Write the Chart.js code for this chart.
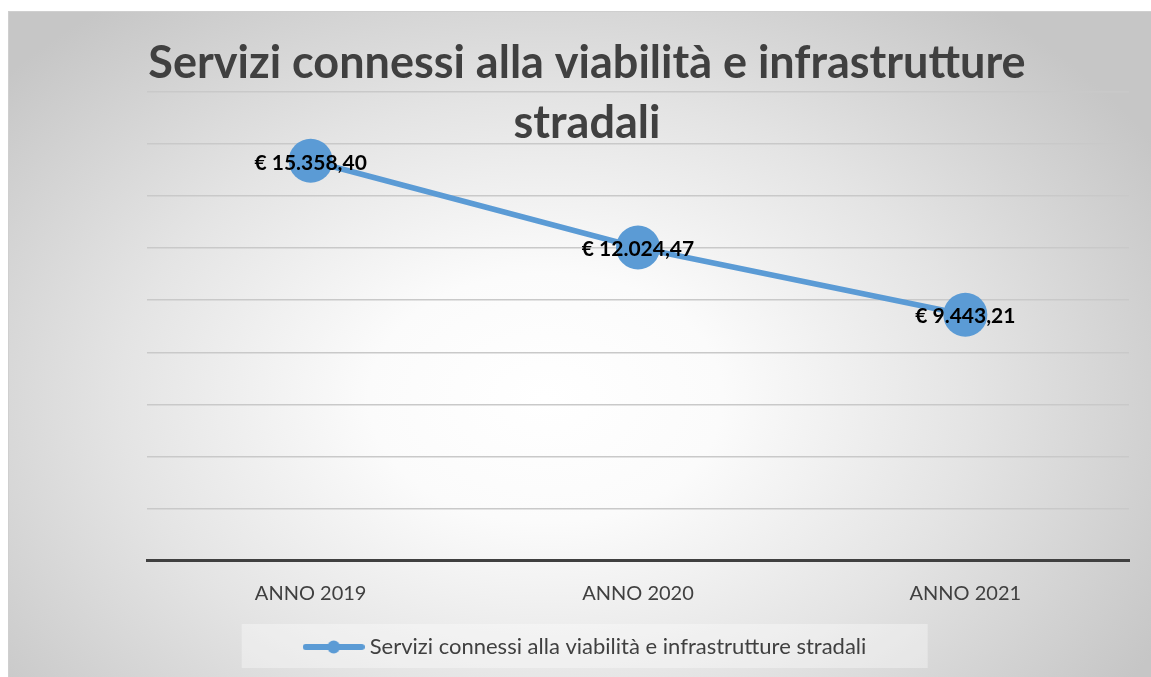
<!DOCTYPE html>
<html lang="it">
<head>
<meta charset="utf-8">
<title>Servizi connessi alla viabilità e infrastrutture stradali</title>
<script src="https://cdn.jsdelivr.net/npm/chart.js@4.4.1/dist/chart.umd.min.js"></script>
<style>
    html, body {
        margin: 0;
        padding: 0;
        background: #ffffff;
        width: 1151px;
        height: 677px;
        overflow: hidden;
    }
    #frame {
        position: absolute;
        left: 8px;
        top: 11px;
        width: 1143px;
        height: 666px;
        box-sizing: border-box;
        border-top: 1px solid #cfcfcf;
        border-left: 1px solid #cfcfcf;
        background: radial-gradient(ellipse 62% 75% at 47% 58%, #ffffff 0%, #fbfbfb 25%, #e4e4e4 60%, #c6c6c6 100%);
    }
    #lineChart {
        display: block;
    }
</style>
</head>
<body>
<div id="frame"><canvas id="lineChart" width="1142" height="656"></canvas></div>
<script>
const titleLines = ["Servizi connessi alla viabilità e infrastrutture", "stradali"];
const seriesName = "Servizi connessi alla viabilità e infrastrutture stradali";
const years = ["ANNO 2019", "ANNO 2020", "ANNO 2021"];
const amounts = [15358.40, 12024.47, 9443.21];
const yMax = 18000;
const yStep = 2000;

const blue = "#5B9BD5";
const darkGray = "#404040";
const fontFamily = "Lato, 'DejaVu Sans', sans-serif";

// Format as euro with Italian separators, e.g. € 15.358,40
function euro(v) {
    const parts = v.toFixed(2).split(".");
    const intPart = parts[0].replace(/\B(?=(\d{3})+(?!\d))/g, ".");
    return "€ " + intPart + "," + parts[1];
}

// Legend marker: a short line with a dot in the middle
function legendMarker() {
    const c = document.createElement("canvas");
    c.width = 62;
    c.height = 14;
    const ctx = c.getContext("2d");
    ctx.strokeStyle = blue;
    ctx.lineWidth = 6;
    ctx.lineCap = "round";
    ctx.beginPath();
    ctx.moveTo(3, 7);
    ctx.lineTo(59, 7);
    ctx.stroke();
    ctx.fillStyle = blue;
    ctx.beginPath();
    ctx.arc(31, 7, 6.5, 0, Math.PI * 2);
    ctx.fill();
    return c;
}

// Title drawn over the top of the plot area
const titlePlugin = {
    id: "overTitle",
    afterDraw(chart) {
        const ctx = chart.ctx;
        const cx = 578;
        ctx.save();
        ctx.fillStyle = darkGray;
        ctx.font = "bold 45px " + fontFamily;
        ctx.textAlign = "center";
        ctx.textBaseline = "alphabetic";
        ctx.fillText(titleLines[0], cx, 66);
        ctx.fillText(titleLines[1], cx, 126);
        ctx.restore();
    }
};

// Value labels centred on each point
const valueLabels = {
    id: "valueLabels",
    afterDatasetsDraw(chart) {
        const ctx = chart.ctx;
        const meta = chart.getDatasetMeta(0);
        ctx.save();
        ctx.fillStyle = "#000000";
        ctx.font = "bold 21px " + fontFamily;
        ctx.textAlign = "center";
        ctx.textBaseline = "middle";
        meta.data.forEach((pt, i) => {
            ctx.fillText(euro(amounts[i]), pt.x, pt.y + 2);
        });
        ctx.restore();
    }
};

// Light panel behind the legend
const legendPanel = {
    id: "legendPanel",
    beforeDraw(chart) {
        const lg = chart.legend;
        if (!lg || !lg.legendHitBoxes.length) return;
        const hb = lg.legendHitBoxes[0];
        const ctx = chart.ctx;
        ctx.save();
        ctx.fillStyle = "rgba(255,255,255,0.35)";
        ctx.fillRect(hb.left - 67, hb.top + hb.height / 2 - 23, 686, 46);
        ctx.restore();
    }
};

const ctx = document.getElementById("lineChart");
new Chart(ctx, {
    type: "line",
    data: {
        labels: years,
        datasets: [
            {
                label: seriesName,
                data: amounts,
                borderColor: blue,
                backgroundColor: blue,
                borderWidth: 5.5,
                pointRadius: 22,
                pointHoverRadius: 22,
                pointBackgroundColor: blue,
                pointBorderWidth: 0,
                pointStyle: "circle",
                tension: 0,
            },
        ],
    },
    options: {
        responsive: false,
        animation: false,
        layout: {
            padding: { left: 33, right: 18, top: 80, bottom: 0 },
        },
        plugins: {
            title: { display: false },
            tooltip: { enabled: false },
            legend: {
                position: "bottom",
                labels: {
                    usePointStyle: true,
                    pointStyle: legendMarker(),
                    pointStyleWidth: 50,
                    boxHeight: 14,
                    color: darkGray,
                    font: { family: fontFamily, size: 22 },
                    padding: 9.5,
                },
            },
        },
        scales: {
            x: {
                offset: true,
                grid: { display: false, drawTicks: false },
                border: { display: true, color: darkGray, width: 3 },
                ticks: {
                    color: darkGray,
                    padding: 21,
                    font: { family: fontFamily, size: 20 },
                },
            },
            y: {
                min: 0,
                max: yMax,
                ticks: { display: false, stepSize: yStep },
                grid: { color: "#c9c9c9", lineWidth: 1.5, drawTicks: false },
                border: { display: false },
                afterFit(scale) {
                    scale.width = 105;
                },
            },
        },
    },
    plugins: [legendPanel, valueLabels, titlePlugin],
});
</script>
</body>
</html>
